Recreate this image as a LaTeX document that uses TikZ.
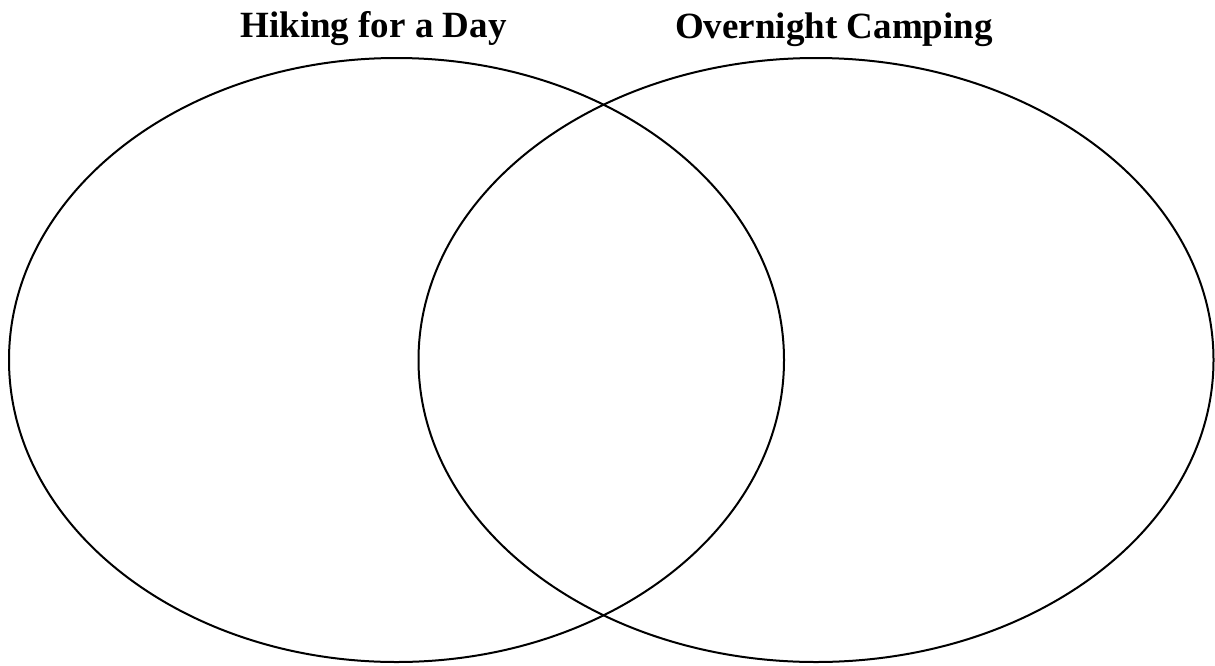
\documentclass[tikz,border=0pt]{standalone}
\usepackage{fontspec}
\setmainfont{Liberation Serif}
\begin{document}
\begin{tikzpicture}[x=1pt,y=-1pt,
  circ/.style={draw=black,line width=2pt},
  ttl/.style={font=\fontsize{37}{40}\selectfont\bfseries,inner sep=0pt,anchor=base}]
\useasboundingbox (0,0) rectangle (1215,665);
\draw[circ] (396.5,360) ellipse [x radius=387.5, y radius=302];
\draw[circ] (816,360) ellipse [x radius=397.5, y radius=302];
\node[ttl] (hike) at (373.5,37) {Hiking for a Day};
\node[ttl] (camp) at (834,38) {Overnight Camping};
\end{tikzpicture}
\end{document}
